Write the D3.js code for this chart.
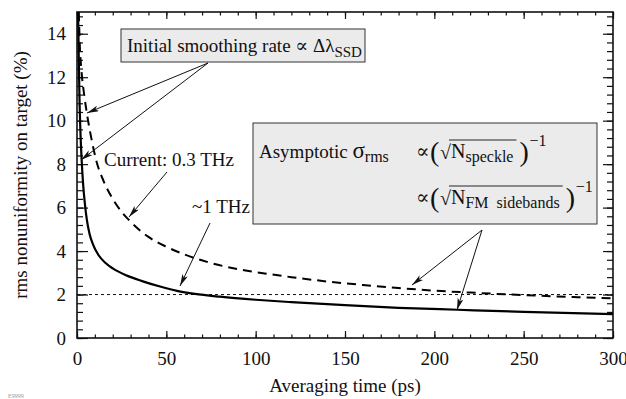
<!DOCTYPE html>
<html>
<head>
<meta charset="utf-8">
<script src="https://cdn.jsdelivr.net/npm/d3@7"></script>
<style>
  body { margin: 0; background: #fff; }
</style>
</head>
<body>
<svg id="chart"></svg>
<script>
const width = 626;
const height = 399;
const serif = "Liberation Serif, Tinos, Times New Roman, DejaVu Serif, serif";

// values: [time (ps), rms nonuniformity (%)]
const dashedSeries = [
  [1.0, 15.0], [1.6, 13.4], [2.5, 12.3], [4, 11.2], [6, 10.1], [8, 9.2], [11, 8.1],
  [15, 7.2], [20, 6.4], [25, 5.8], [30, 5.35], [40, 4.65], [50, 4.2], [60, 3.85],
  [75, 3.45], [90, 3.17], [105, 2.97], [120, 2.8], [140, 2.6], [160, 2.44],
  [180, 2.3], [200, 2.18], [220, 2.09], [240, 2.01], [260, 1.94], [280, 1.88], [300, 1.82]
];
const solidSeries = [
  [0.6, 15.0], [0.8, 14.0], [1.0, 12.8], [1.4, 11.0], [2.0, 9.3], [2.6, 8.2],
  [3.5, 7.0], [4.5, 6.1], [5.5, 5.45], [7, 4.8], [9, 4.3], [12, 3.82], [16, 3.45],
  [20, 3.2], [28, 2.87], [36, 2.63], [46, 2.38], [56, 2.17], [66, 2.03], [80, 1.9],
  [100, 1.76], [120, 1.65], [150, 1.51], [180, 1.39], [213, 1.3], [250, 1.2], [300, 1.1]
];
const referenceLevel = 2;

const xMajor = [0, 50, 100, 150, 200, 250, 300];
const xMinor = d3.range(0, 301, 10);
const yMajor = [0, 2, 4, 6, 8, 10, 12, 14];
const yMinor = d3.range(0, 15.01, 0.4).map(v => +v.toFixed(1));

const svg = d3.select("#chart")
    .attr("width", width)
    .attr("height", height)
    .style("font-family", serif);

const x = d3.scaleLinear().domain([0, 300]).range([77, 613]);
const y = d3.scaleLinear().domain([0, 15]).range([338, 12]);

svg.append("clipPath").attr("id", "plotclip")
  .append("rect")
    .attr("x", x(0)).attr("y", y(15))
    .attr("width", x(300) - x(0)).attr("height", y(0) - y(15));

// axes: ticks point inward on all four sides
function styleAxis(g) {
    g.attr("font-family", null).style("font-family", serif);
    g.select(".domain").remove();
    g.selectAll(".tick line").attr("stroke", "#111").attr("stroke-width", 1.2);
    g.selectAll("text").attr("fill", "#111").attr("font-size", 19);
}

svg.append("g").attr("transform", `translate(0,${y(0)})`)
    .call(d3.axisBottom(x).tickValues(xMinor).tickSize(-3.5).tickFormat(""))
    .call(styleAxis);
svg.append("g").attr("transform", `translate(0,${y(0)})`)
    .call(d3.axisBottom(x).tickValues(xMajor).tickSize(-7).tickPadding(14).tickFormat(d3.format("d")))
    .call(styleAxis);
svg.append("g").attr("transform", `translate(0,${y(15)})`)
    .call(d3.axisTop(x).tickValues(xMinor).tickSize(-3.5).tickFormat(""))
    .call(styleAxis);
svg.append("g").attr("transform", `translate(0,${y(15)})`)
    .call(d3.axisTop(x).tickValues(xMajor).tickSize(-7).tickFormat(""))
    .call(styleAxis);

svg.append("g").attr("transform", `translate(${x(0)},0)`)
    .call(d3.axisLeft(y).tickValues(yMinor).tickSize(-6).tickFormat(""))
    .call(styleAxis);
svg.append("g").attr("transform", `translate(${x(0)},0)`)
    .call(d3.axisLeft(y).tickValues(yMajor).tickSize(-11).tickPadding(11).tickFormat(d3.format("d")))
    .call(styleAxis);
svg.append("g").attr("transform", `translate(${x(300)},0)`)
    .call(d3.axisRight(y).tickValues(yMinor).tickSize(-6).tickFormat(""))
    .call(styleAxis);
svg.append("g").attr("transform", `translate(${x(300)},0)`)
    .call(d3.axisRight(y).tickValues(yMajor).tickSize(-10).tickFormat(""))
    .call(styleAxis);

// frame
svg.append("rect")
    .attr("x", x(0)).attr("y", y(15))
    .attr("width", x(300) - x(0)).attr("height", y(0) - y(15))
    .attr("fill", "none").attr("stroke", "#111").attr("stroke-width", 1.6);

// axis titles
svg.append("text")
    .attr("x", (x(0) + x(300)) / 2).attr("y", 392)
    .attr("text-anchor", "middle").attr("font-size", 19).attr("fill", "#111")
    .text("Averaging time (ps)");
svg.append("text")
    .attr("transform", `translate(27,${(y(0) + y(15)) / 2}) rotate(-90)`)
    .attr("text-anchor", "middle").attr("font-size", 19).attr("fill", "#111")
    .text("rms nonuniformity on target (%)");

svg.append("text")
    .attr("x", 8).attr("y", 398)
    .attr("font-size", 6).attr("fill", "#999")
    .text("E9999");

// reference level and curves
const plot = svg.append("g").attr("clip-path", "url(#plotclip)");
plot.append("line")
    .attr("x1", x(0)).attr("x2", x(300))
    .attr("y1", y(referenceLevel)).attr("y2", y(referenceLevel))
    .attr("stroke", "#111").attr("stroke-width", 1)
    .attr("stroke-dasharray", "3,3");

const line = d3.line()
    .x(d => x(d[0]))
    .y(d => y(d[1]))
    .curve(d3.curveMonotoneX);

plot.append("path")
    .datum(dashedSeries)
    .attr("d", line)
    .attr("fill", "none").attr("stroke", "#000").attr("stroke-width", 2)
    .attr("stroke-dasharray", "9,6");

plot.append("path")
    .datum(solidSeries)
    .attr("d", line)
    .attr("fill", "none").attr("stroke", "#000").attr("stroke-width", 2.2);

// annotation boxes
svg.append("rect")
    .attr("x", 121).attr("y", 29).attr("width", 244).attr("height", 33)
    .attr("fill", "#ebebeb").attr("stroke", "#333").attr("stroke-width", 1);
const t1 = svg.append("text").attr("x", 127).attr("y", 52)
    .attr("font-size", 19).attr("fill", "#111");
t1.append("tspan").text("Initial smoothing rate \u221D \u0394\u03BB");
t1.append("tspan").attr("font-size", 15).attr("dy", 5).text("SSD");

svg.append("rect")
    .attr("x", 253).attr("y", 123).attr("width", 344).attr("height", 101)
    .attr("fill", "#ebebeb").attr("stroke", "#333").attr("stroke-width", 1);
const t2 = svg.append("text").attr("x", 259).attr("y", 158)
    .attr("font-size", 19).attr("fill", "#111");
t2.append("tspan").text("Asymptotic ");
t2.append("tspan").attr("font-size", 23).text("\u03C3");
t2.append("tspan").attr("font-size", 16).attr("dy", 4).text("rms");

function proportional(yBase, sub) {
    const x0 = 416;
    const g = svg.append("g").attr("fill", "#111");
    g.append("text").attr("x", x0).attr("y", yBase).attr("font-size", 20).text("\u221D");
    g.append("text").attr("x", x0 + 14).attr("y", yBase + 3).attr("font-size", 28).text("(");
    g.append("text").attr("x", x0 + 24).attr("y", yBase + 1).attr("font-size", 20).text("\u221A");
    const n = g.append("text").attr("x", x0 + 35).attr("y", yBase).attr("font-size", 20);
    n.append("tspan").text("N");
    n.append("tspan").attr("font-size", 16).attr("dy", 4).text(sub);
    const w = n.node().getComputedTextLength();
    g.append("line")
        .attr("x1", x0 + 33).attr("x2", x0 + 38 + w)
        .attr("y1", yBase - 18).attr("y2", yBase - 18)
        .attr("stroke", "#111").attr("stroke-width", 0.9);
    g.append("text").attr("x", x0 + 41 + w).attr("y", yBase + 3).attr("font-size", 28).text(")");
    g.append("text").attr("x", x0 + 51 + w).attr("y", yBase - 12).attr("font-size", 16).text("\u22121");
}
proportional(158, "speckle");
proportional(204, "FM\u00A0\u00A0sidebands");

// free labels
svg.append("text").attr("x", 104).attr("y", 166)
    .attr("font-size", 19).attr("fill", "#111").text("Current: 0.3 THz");
svg.append("text").attr("x", 250).attr("y", 213)
    .attr("text-anchor", "end")
    .attr("font-size", 19).attr("fill", "#111").text("~1 THz");

// arrows
svg.append("defs").append("marker")
    .attr("id", "head")
    .attr("viewBox", "0 0 12 6")
    .attr("refX", 12).attr("refY", 3)
    .attr("markerWidth", 12).attr("markerHeight", 6)
    .attr("markerUnits", "userSpaceOnUse")
    .attr("orient", "auto")
  .append("path")
    .attr("d", "M0,0 L12,3 L0,6 L3,3 Z")
    .attr("fill", "#111");

const arrows = [
    [[208, 63], [87, 113]],
    [[208, 63], [81, 160]],
    [[167, 172], [129, 217]],
    [[210, 223], [180, 286]],
    [[482, 230], [412, 285]],
    [[482, 230], [457, 310]]
];
svg.append("g").selectAll("line")
    .data(arrows)
    .enter().append("line")
    .attr("x1", d => d[0][0]).attr("y1", d => d[0][1])
    .attr("x2", d => d[1][0]).attr("y2", d => d[1][1])
    .attr("stroke", "#111").attr("stroke-width", 1)
    .attr("marker-end", "url(#head)");
</script>
</body>
</html>
